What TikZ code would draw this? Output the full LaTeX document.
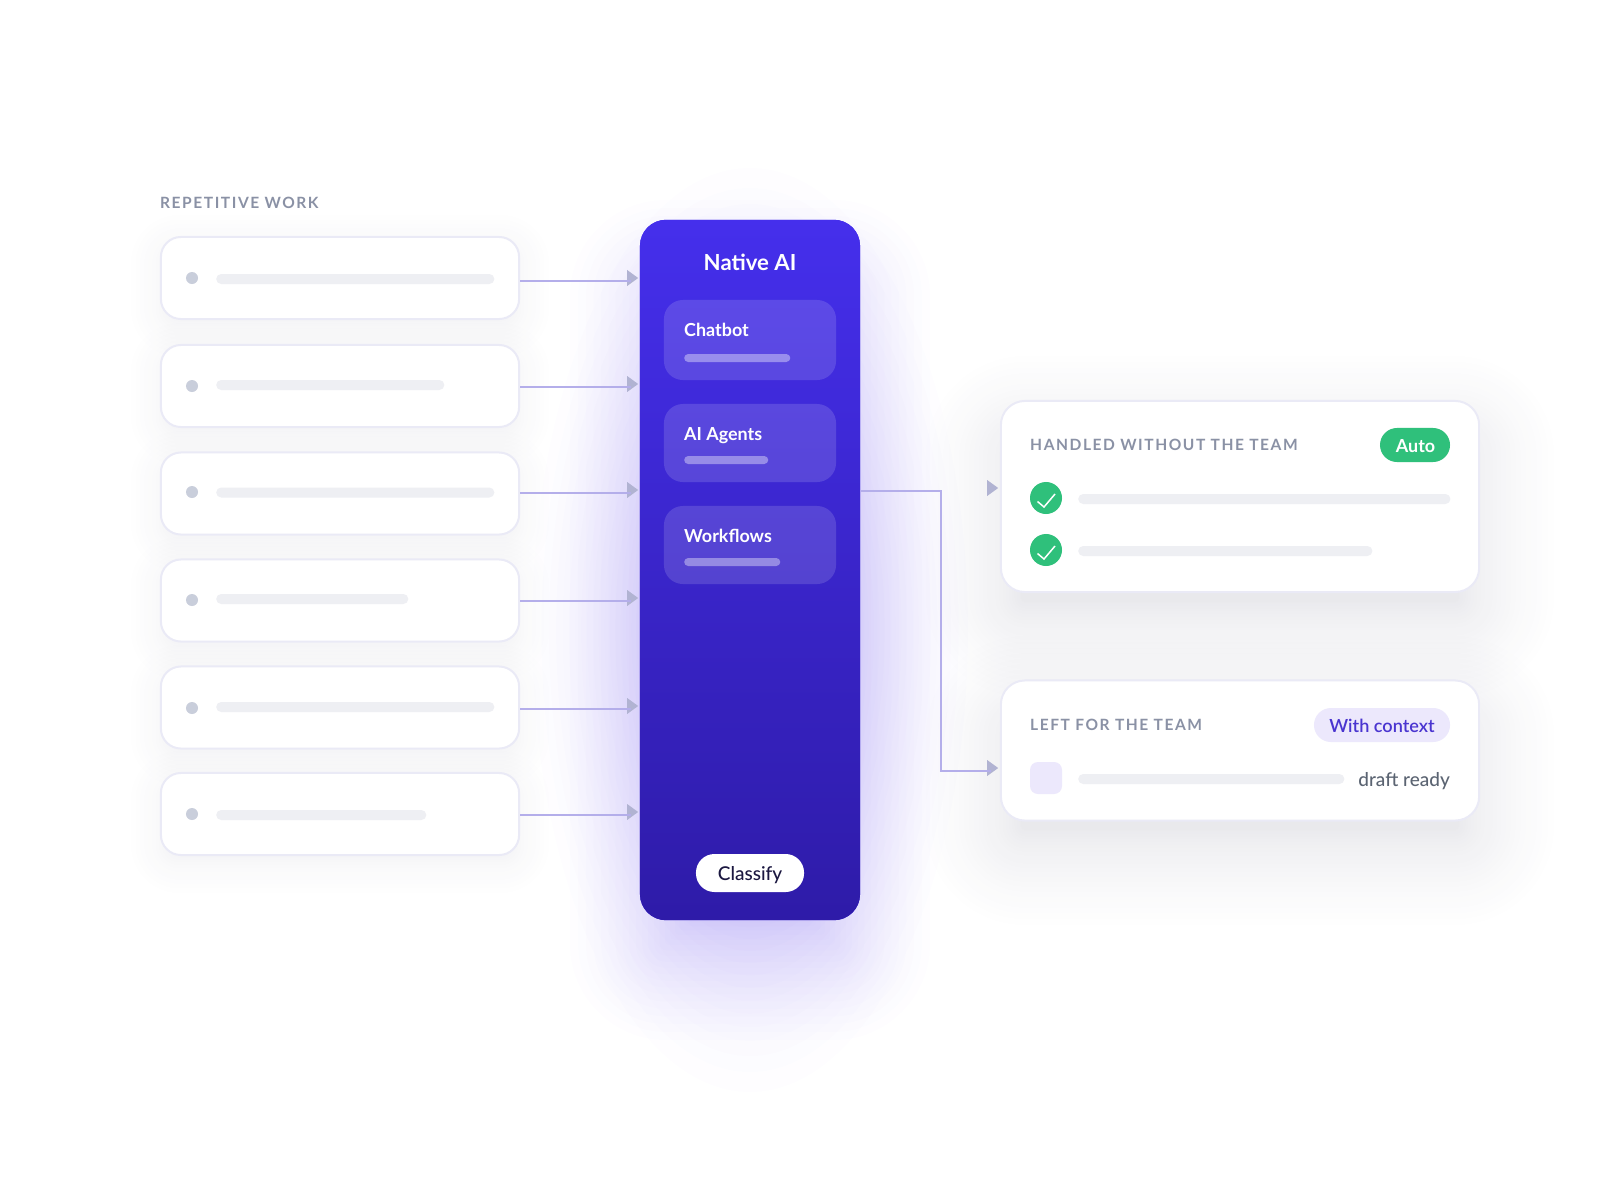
\documentclass[tikz,border=0pt]{standalone}
\usepackage{fontspec}
\usepackage{xcolor}
\usetikzlibrary{shapes.geometric, positioning, calc}

\setmainfont{Lato}
\newfontfamily\capsfont[LetterSpace=10]{Lato}
\newfontfamily\mediumfont{Lato Medium}
\newfontfamily\semifont{Lato Semibold}

\definecolor{panelTop}{HTML}{452FEC}
\definecolor{panelBottom}{HTML}{2E1BA8}
\definecolor{glowInk}{HTML}{4A2BE8}
\definecolor{shadowInk}{HTML}{1C1C40}
\definecolor{cardEdge}{HTML}{EAEAF6}
\definecolor{barGrey}{HTML}{EEEFF3}
\definecolor{dotGrey}{HTML}{C9CEDB}
\definecolor{capsGrey}{HTML}{8A91A5}
\definecolor{wireBlue}{HTML}{B4AEEA}
\definecolor{tipGrey}{HTML}{B1B3D2}
\definecolor{okGreen}{HTML}{2FC07B}
\definecolor{softViolet}{HTML}{ECE8FC}
\definecolor{inkViolet}{HTML}{4A35D0}
\definecolor{draftGrey}{HTML}{5B6472}
\definecolor{classifyInk}{HTML}{1B1740}

% x1, y1, x2, y2, radius, smallest and largest spread, layers, fill options
\newcommand{\softshadow}[9]{%
  \foreach \k in {0,...,#8} {
    \pgfmathsetmacro{\dd}{#6+(#7-(#6))*pow(\k/#8,1.5)}
    \pgfmathsetmacro{\rr}{max(#5+\dd,4)*0.2845}
    \fill[#9,rounded corners=\rr pt] (#1-\dd,#2-\dd) rectangle (#3+\dd,#4+\dd);
  }%
}

\tikzset{
  card/.style={draw=cardEdge,line width=0.02cm,fill=white,rounded corners=0.2cm,inner sep=0pt,minimum width=3.58cm,minimum height=0.82cm},
  bigcard/.style={draw=cardEdge,line width=0.02cm,fill=white,rounded corners=0.24cm,inner sep=0pt,minimum width=4.78cm},
  bar/.style={fill=barGrey,rounded corners=0.05cm,inner sep=0pt,minimum height=0.1cm,anchor=west},
  softbar/.style={fill=white,fill opacity=0.38,rounded corners=0.04cm,inner sep=0pt,minimum height=0.08cm,anchor=west},
  dot/.style={circle,fill=dotGrey,inner sep=0pt,minimum size=0.12cm},
  tool/.style={fill=white,fill opacity=0.14,rounded corners=0.19cm,inner sep=0pt,minimum width=1.72cm},
  tip/.style={isosceles triangle,isosceles triangle stretches,fill=tipGrey,inner sep=0pt,minimum height=0.11cm,minimum width=0.16cm,anchor=apex},
  wire/.style={draw=wireBlue,line width=0.02cm},
  pill/.style={rounded corners=0.17cm,inner sep=0pt,minimum height=0.34cm},
  caps/.style={text=capsGrey,font=\capsfont\bfseries\fontsize{4.42}{5}\selectfont,inner sep=0pt,anchor=base west},
  toolname/.style={text=white,font=\bfseries\fontsize{5.1}{6}\selectfont,inner sep=0pt,anchor=base west},
  okmark/.style={circle,fill=okGreen,inner sep=0pt,minimum size=0.32cm}
}

\begin{document}
\begin{tikzpicture}[x=0.01cm,y=-0.01cm]
  \useasboundingbox (0,0) rectangle (1600,1200);

  % Outer glow
  \foreach \k in {0,...,20} {
    \pgfmathsetmacro{\tt}{1-0.55*pow(\k/20,0.85)}
    \fill[glowInk,opacity=0.006] (750,630) ellipse ({218*\tt} and {462*\tt});
  }

  % Glow and shadows
  \softshadow{640}{270}{860}{970}{26}{-60}{70}{24}{glowInk,opacity=0.006}
  \softshadow{161}{245}{519}{327}{18}{-8}{30}{12}{shadowInk,opacity=0.004}
  \softshadow{161}{353}{519}{435}{18}{-8}{30}{12}{shadowInk,opacity=0.004}
  \softshadow{161}{461}{519}{542}{18}{-8}{30}{12}{shadowInk,opacity=0.004}
  \softshadow{161}{567}{519}{650}{18}{-8}{30}{12}{shadowInk,opacity=0.004}
  \softshadow{161}{675}{519}{756}{18}{-8}{30}{12}{shadowInk,opacity=0.004}
  \softshadow{161}{781}{519}{863}{18}{-8}{30}{12}{shadowInk,opacity=0.004}
  \softshadow{1001}{431}{1479}{622}{24}{-20}{75}{24}{shadowInk,opacity=0.004}
  \softshadow{1001}{711}{1479}{850}{24}{-20}{75}{24}{shadowInk,opacity=0.004}

  % Left column
  \node[caps] (workLabel) at (159.5,208.5) {REPETITIVE WORK};
  \node[card] (card1) at (340,278) {};
  \node[card] (card2) at (340,386) {};
  \node[card] (card3) at (340,493.5) {};
  \node[card] (card4) at (340,600.5) {};
  \node[card] (card5) at (340,707.5) {};
  \node[card] (card6) at (340,814) {};

  % Dots
  \node[dot] (dot1) at (192,278) {};
  \node[dot] (dot2) at (192,386) {};
  \node[dot] (dot3) at (192,492) {};
  \node[dot] (dot4) at (192,600) {};
  \node[dot] (dot5) at (192,708) {};
  \node[dot] (dot6) at (192,814) {};

  % Bars
  \node[bar,minimum width=2.78cm] (bar1) at (215.5,279) {};
  \node[bar,minimum width=2.28cm] (bar2) at (215.5,385) {};
  \node[bar,minimum width=2.78cm] (bar3) at (215.5,492.5) {};
  \node[bar,minimum width=1.92cm] (bar4) at (215.5,599) {};
  \node[bar,minimum width=2.78cm] (bar5) at (215.5,707) {};
  \node[bar,minimum width=2.10cm] (bar6) at (215.5,815) {};

  % Arrow heads
  \node[tip] (tip1) at (640,278) {};
  \node[tip] (tip2) at (640,384) {};
  \node[tip] (tip3) at (640,490) {};
  \node[tip] (tip4) at (640,598) {};
  \node[tip] (tip5) at (640,706) {};
  \node[tip] (tip6) at (640,812) {};
  \node[tip] (tip7) at (1000,488) {};
  \node[tip] (tip8) at (1000,768) {};

  % Wires into the panel
  \draw[wire] (card1.east |- 0,281) -- (tip1.center |- 0,281);
  \draw[wire] (card2.east |- 0,387) -- (tip2.center |- 0,387);
  \draw[wire] (card3.east |- 0,493) -- (tip3.center |- 0,493);
  \draw[wire] (card4.east |- 0,601) -- (tip4.center |- 0,601);
  \draw[wire] (card5.east |- 0,709) -- (tip5.center |- 0,709);
  \draw[wire] (card6.east |- 0,815) -- (tip6.center |- 0,815);

  % Panel
  \node[fill=panelTop,top color=panelTop,bottom color=panelBottom,rounded corners=0.26cm,inner sep=0pt,minimum width=2.2cm,minimum height=7cm] (panel) at (750,570) {};
  \node[text=white,font=\bfseries\fontsize{6.3}{7}\selectfont,inner sep=0pt,anchor=base] (panelTitle) at (750,270) {Native AI};

  % Tools in the panel
  \node[tool,minimum height=0.8cm] (tool1) at (750,340) {};
  \node[tool,minimum height=0.78cm] (tool2) at (750,443) {};
  \node[tool,minimum height=0.78cm] (tool3) at (750,545) {};
  \node[toolname] (toolName1) at (683.5,336) {Chatbot};
  \node[toolname] (toolName2) at (683.5,440) {AI Agents};
  \node[toolname] (toolName3) at (683.5,542) {Workflows};
  \node[softbar,minimum width=1.06cm] (toolBar1) at (683.5,358) {};
  \node[softbar,minimum width=0.84cm] (toolBar2) at (683.5,460) {};
  \node[softbar,minimum width=0.96cm] (toolBar3) at (683.5,562) {};

  % Classify button
  \node[fill=white,rounded corners=0.185cm,inner sep=0pt,minimum width=1.08cm,minimum height=0.38cm] (classifyBtn) at (750,873) {};
  \node[text=classifyInk,font=\mediumfont\fontsize{5.4}{6}\selectfont,inner sep=0pt,anchor=base] (classifyText) at (750,880) {Classify};

  % Wire out of the panel
  \coordinate (bend) at (941,491);
  \draw[wire] (panel.east |- bend) -- (bend) -- (bend |- 0,771) -- (tip8.center |- 0,771);

  % Upper card
  \node[bigcard,minimum height=1.91cm] (doneCard) at (1240,496.5) {};
  \node[caps] (doneLabel) at (1029.5,450) {HANDLED WITHOUT THE TEAM};
  \node[pill,fill=okGreen,minimum width=0.7cm] (autoPill) at (1415,445) {};
  \node[text=white,font=\bfseries\fontsize{5.1}{6}\selectfont,inner sep=0pt,anchor=base] (autoText) at (1415.5,452) {Auto};
  \node[okmark] (ok1) at (1046,498) {};
  \node[okmark] (ok2) at (1046,550) {};
  \draw[white,line width=0.015cm] (1037.5,501.5) -- (1044,507) -- (1055,494);
  \draw[white,line width=0.015cm] (1037.5,553.5) -- (1044,559) -- (1055,546);
  \node[bar,minimum width=3.72cm] (doneBar1) at (1077.5,499) {};
  \node[bar,minimum width=2.94cm] (doneBar2) at (1077.5,551) {};

  % Lower card
  \node[bigcard,minimum height=1.4cm] (teamCard) at (1240,750.5) {};
  \node[caps] (teamLabel) at (1029.5,730.5) {LEFT FOR THE TEAM};
  \node[pill,fill=softViolet,minimum width=1.36cm] (contextPill) at (1382,725) {};
  \node[text=inkViolet,font=\semifont\fontsize{5.15}{6}\selectfont,inner sep=0pt,anchor=base] (contextText) at (1382,732) {With context};
  \node[fill=softViolet,rounded corners=0.08cm,inner sep=0pt,minimum size=0.32cm] (draftIcon) at (1046,778) {};
  \node[bar,minimum width=2.66cm] (draftBar) at (1077.5,779) {};
  \node[text=draftGrey,font=\mediumfont\fontsize{5.4}{6}\selectfont,inner sep=0pt,anchor=base east] (draftText) at (1450.5,786) {draft ready};
\end{tikzpicture}
\end{document}
